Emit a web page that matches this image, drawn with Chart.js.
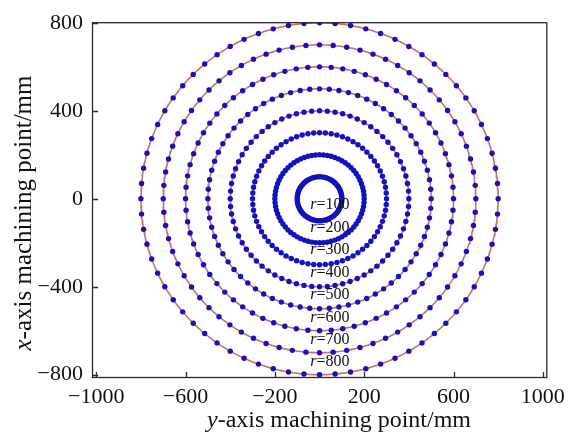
<!DOCTYPE html>
<html>
<head>
<meta charset="utf-8">
<script src="https://cdn.jsdelivr.net/npm/chart.js@4.4.0/dist/chart.umd.min.js"></script>
<style>
  html, body { margin: 0; padding: 0; background: #fff; }
  #wrap { width: 571px; height: 437px; position: relative; }
</style>
</head>
<body>
<div id="wrap"><canvas id="c" width="571" height="437"></canvas></div>
<script>
// Nominal radii of the machined circles (mm)
const radii = [100, 200, 300, 400, 500, 600, 700, 800];
// Machining points recorded on each circle (one every 5 degrees)
const pointsPerCircle = [72, 72, 72, 72, 72, 72, 72, 72];
// Circle annotations
const circleLabels = ['100', '200', '300', '400', '500', '600', '700', '800'];
// Axis tick values
const xTicks = [-1000, -600, -200, 200, 600, 1000];
const yTicks = [-800, -400, 0, 400, 800];

const SERIF = "'Liberation Serif', 'Times New Roman', serif";

function circlePoints(r, n) {
  const pts = [];
  for (let k = 0; k < n; k++) {
    const a = (2 * Math.PI * k) / n;
    pts.push({ x: r * Math.cos(a), y: r * Math.sin(a) });
  }
  return pts;
}

function closedPath(r, n) {
  const pts = circlePoints(r, n);
  pts.push({ x: pts[0].x, y: pts[0].y });
  return pts;
}

const datasets = [];
radii.forEach((r, i) => {
  // ideal tool path
  datasets.push({
    data: closedPath(r, 360),
    showLine: true,
    borderColor: '#d9686c',
    borderWidth: 1.6,
    pointRadius: 0,
    fill: false,
    tension: 0,
    order: 2
  });
  // measured machining points
  datasets.push({
    data: circlePoints(r, pointsPerCircle[i]),
    showLine: false,
    pointRadius: 2.7,
    pointBackgroundColor: '#1212c0',
    pointBorderWidth: 0,
    order: 1
  });
});

const fmt = v => (v < 0 ? '\u2212' + Math.abs(v) : String(v));

function drawRich(ctx, parts, size, x, y, align) {
  let total = 0;
  parts.forEach(p => {
    ctx.font = (p.italic ? 'italic ' : '') + size + 'px ' + SERIF;
    p.w = ctx.measureText(p.t).width;
    total += p.w;
  });
  let cx = align === 'center' ? x - total / 2 : x;
  parts.forEach(p => {
    ctx.font = (p.italic ? 'italic ' : '') + size + 'px ' + SERIF;
    ctx.fillText(p.t, cx, y);
    cx += p.w;
  });
}

const decor = {
  id: 'decor',
  afterDraw(chart) {
    const ctx = chart.ctx;
    const { left, right, top, bottom } = chart.chartArea;
    const xs = chart.scales.x, ys = chart.scales.y;
    ctx.save();

    // frame
    ctx.strokeStyle = '#2a2a2a';
    ctx.lineWidth = 1.3;
    ctx.strokeRect(left + 0.5, top + 0.5, right - left - 1, bottom - top - 1);

    // inward tick marks
    ctx.beginPath();
    yTicks.forEach(v => {
      const py = Math.round(ys.getPixelForValue(v)) + 0.5;
      ctx.moveTo(left, py);
      ctx.lineTo(left + 6, py);
    });
    xTicks.forEach(v => {
      const px = Math.round(xs.getPixelForValue(v)) + 0.5;
      ctx.moveTo(px, bottom);
      ctx.lineTo(px, bottom - 6);
    });
    ctx.stroke();

    // circle labels
    ctx.fillStyle = '#111';
    ctx.textBaseline = 'middle';
    circleLabels.forEach((lab, i) => {
      const px = xs.getPixelForValue(-42);
      const py = ys.getPixelForValue(-29 - i * 102);
      drawRich(ctx, [{ t: 'r', italic: true }, { t: '=' + lab }], 16, px, py, 'left');
    });

    // axis titles
    drawRich(ctx, [{ t: 'y', italic: true }, { t: '-axis machining point/mm' }], 24, 339, 421, 'center');
    ctx.translate(24, 213);
    ctx.rotate(-Math.PI / 2);
    drawRich(ctx, [{ t: 'x', italic: true }, { t: '-axis machining point/mm' }], 25, 0, 0, 'center');
    ctx.restore();
  }
};

new Chart(document.getElementById('c'), {
  type: 'scatter',
  data: { datasets },
  options: {
    responsive: false,
    animation: false,
    devicePixelRatio: 1,
    layout: { padding: { left: 0, top: 15, right: 18, bottom: 0 } },
    plugins: { legend: { display: false }, tooltip: { enabled: false } },
    scales: {
      x: {
        type: 'linear',
        min: -1019,
        max: 1020,
        grid: { display: false, drawTicks: false },
        border: { display: false },
        afterBuildTicks: s => { s.ticks = xTicks.map(v => ({ value: v })); },
        afterFit: s => { s.height = 59; },
        ticks: {
          autoSkip: false,
          maxRotation: 0,
          padding: 6,
          color: '#111',
          font: { family: SERIF, size: 22 },
          callback: v => fmt(v)
        }
      },
      y: {
        type: 'linear',
        min: -815,
        max: 803,
        grid: { display: false, drawTicks: false },
        border: { display: false },
        afterBuildTicks: s => { s.ticks = yTicks.map(v => ({ value: v })); },
        afterFit: s => { s.width = 92; },
        ticks: {
          autoSkip: false,
          padding: 9,
          color: '#111',
          font: { family: SERIF, size: 22 },
          callback: v => fmt(v)
        }
      }
    }
  },
  plugins: [decor]
});
</script>
</body>
</html>
